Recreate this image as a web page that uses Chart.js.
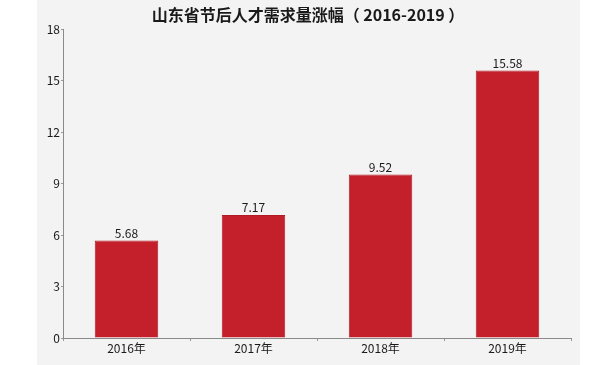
<!DOCTYPE html>
<html lang="zh">
<head>
    <meta charset="UTF-8">
    <title>山东省节后人才需求量涨幅</title>
    <script src="https://cdn.jsdelivr.net/npm/chart.js"></script>
    <style>
        html, body { margin: 0; padding: 0; background: #ffffff; }
        #panel {
            position: absolute; left: 37px; top: 0;
            width: 543px; height: 365px;
            background: #f4f3f4;
        }
    </style>
</head>
<body>
    <div id="panel">
        <canvas id="graph" width="543" height="365"></canvas>
    </div>
<script>
    // data
    const years = ['2016年', '2017年', '2018年', '2019年'];
    const demand = [5.68, 7.17, 9.52, 15.58];
    const yMax = 18;
    const yStep = 3;
    const titleText = '山东省节后人才需求量涨幅（ 2016-2019 ）';

    const fontFamily = "'Noto Sans CJK SC', 'Noto Sans', sans-serif";

    // title drawn by hand so it sits where the original one does
    const chartTitle = {
        id: 'chartTitle',
        afterDraw(chart) {
            const c = chart.ctx;
            c.save();
            c.font = 'bold 16px ' + fontFamily;
            c.fillStyle = '#1a1a1a';
            c.textAlign = 'center';
            c.textBaseline = 'middle';
            c.fillText(titleText, 271, 15);
            c.restore();
        }
    };

    // value labels above the bars
    const valueLabels = {
        id: 'valueLabels',
        afterDatasetsDraw(chart) {
            const c = chart.ctx;
            const meta = chart.getDatasetMeta(0);
            c.save();
            c.font = '12px ' + fontFamily;
            c.fillStyle = '#1a1a1a';
            c.textAlign = 'center';
            c.textBaseline = 'bottom';
            meta.data.forEach((bar, i) => {
                c.fillText(demand[i].toFixed(2), bar.x, bar.y - 1);
            });
            c.restore();
        }
    };

    const ctx = document.getElementById('graph');
    new Chart(ctx, {
        type: 'bar',
        data: {
            labels: years,
            datasets: [{
                data: demand,
                backgroundColor: '#c4202b',
                borderColor: '#b01c26',
                borderWidth: 1,
                barPercentage: 0.5,
                categoryPercentage: 1
            }]
        },
        options: {
            responsive: false,
            animation: false,
            layout: { padding: { left: 0, right: 9, top: 29, bottom: 0 } },
            plugins: {
                legend: { display: false },
                tooltip: { enabled: false },
                title: { display: false }
            },
            scales: {
                x: {
                    grid: { display: true, drawOnChartArea: false, tickLength: 3, color: '#999' },
                    border: { color: '#8a8a8a', width: 1 },
                    ticks: { color: '#1a1a1a', font: { family: fontFamily, size: 12 }, padding: 0 },
                    afterFit: s => { s.height = 27; }
                },
                y: {
                    min: 0,
                    max: yMax,
                    ticks: { stepSize: yStep, color: '#1a1a1a', font: { family: fontFamily, size: 12 }, padding: 1 },
                    grid: { display: true, drawOnChartArea: false, tickLength: 2, color: '#999' },
                    border: { color: '#8a8a8a', width: 1 },
                    afterFit: s => { s.width = 26; }
                }
            }
        },
        plugins: [valueLabels, chartTitle]
    });
</script>
</body>
</html>
